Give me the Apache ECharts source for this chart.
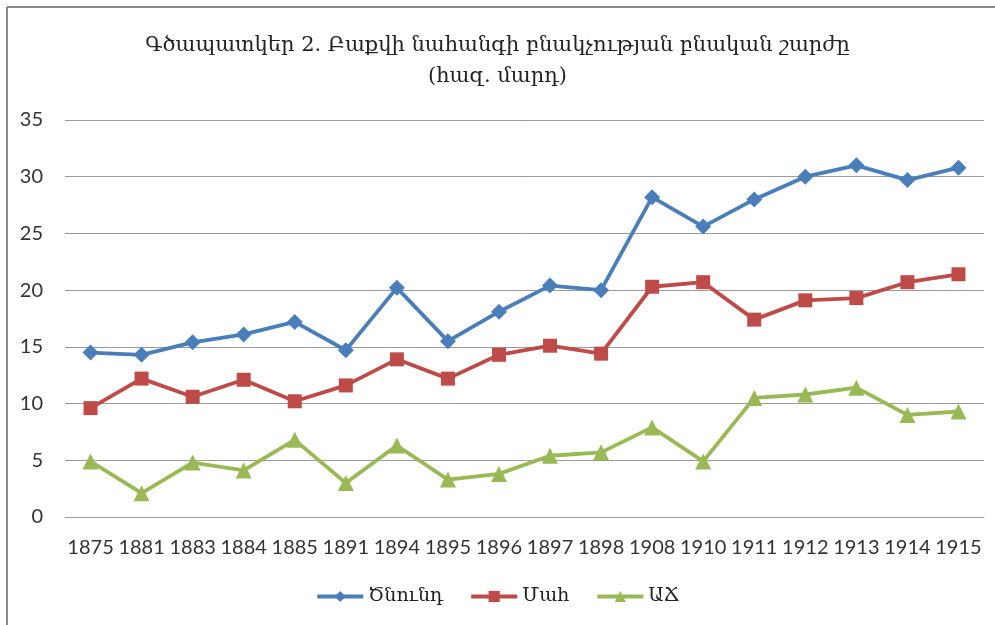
<!DOCTYPE html>
<html><head><meta charset="utf-8">
<script src="https://cdn.jsdelivr.net/npm/echarts@6/dist/echarts.min.js"></script>
<style>html,body{margin:0;padding:0;background:#fff}#c{width:995px;height:625px}</style>
</head><body><div id="c"></div>
<script>
const years = ['1875','1881','1883','1884','1885','1891','1894','1895','1896','1897','1898','1908','1910','1911','1912','1913','1914','1915'];
const births = [14.5,14.3,15.4,16.1,17.2,14.7,20.2,15.5,18.1,20.4,20.0,28.2,25.6,28.0,30.0,31.0,29.7,30.8];
const deaths = [9.6,12.2,10.6,12.1,10.2,11.6,13.9,12.2,14.3,15.1,14.4,20.3,20.7,17.4,19.1,19.3,20.7,21.4];
const growth = [4.9,2.1,4.8,4.1,6.8,3.0,6.3,3.3,3.8,5.4,5.7,7.9,4.9,10.5,10.8,11.4,9.0,9.3];
const seriesNames = ['Ծնունդ','Մահ','ԱՃ'];
const titleText = 'Գծապատկեր 2. Բաքվի նահանգի բնակչության բնական շարժը\n(հազ. մարդ)';

const chart = echarts.init(document.getElementById('c'), null, {renderer:'canvas'});
const serif = 'DejaVu Serif';
const sans = 'Lato';
function mk(name, data, color, symbol, size){
  return {name, type:'line', data, symbol, symbolSize:size, showSymbol:true,
    lineStyle:{color, width:3.8}, itemStyle:{color}, emphasis:{disabled:true}, z:3};
}
chart.setOption({
  animation:false,
  backgroundColor:'#fff',
  title:{text:titleText, left:'center', top:25,
    textStyle:{fontFamily:serif, fontSize:21, fontWeight:'normal', color:'#222', lineHeight:31}},
  legend:{bottom:14, left:'center', itemWidth:46, itemHeight:14, itemGap:26,
    lineStyle:{width:4},
    textStyle:{fontFamily:serif, fontSize:19, color:'#222'},
    data:seriesNames},
  grid:{left:65, right:11, top:120, bottom:108, containLabel:false},
  xAxis:{type:'category', data:years, boundaryGap:true,
    axisLine:{lineStyle:{color:'#999', width:1}}, axisTick:{show:false},
    axisLabel:{fontFamily:sans, fontSize:20, color:'#333', margin:21, interval:0}},
  yAxis:{type:'value', min:0, max:35, interval:5,
    axisLine:{show:false}, axisTick:{show:false},
    splitLine:{lineStyle:{color:'#9a9a9a', width:1}},
    axisLabel:{fontFamily:sans, fontSize:20, color:'#333', margin:22}},
  graphic:[
    {type:'line', shape:{x1:7,y1:7,x2:995,y2:7}, style:{stroke:'#888', lineWidth:2}},
    {type:'line', shape:{x1:7,y1:7,x2:7,y2:625}, style:{stroke:'#888', lineWidth:2}}
  ],
  series:[
    mk(seriesNames[0], births, '#4A7EBB', 'diamond', 16),
    mk(seriesNames[1], deaths, '#BE4B48', 'rect', 14),
    mk(seriesNames[2], growth, '#98B954', 'triangle', 16)
  ]
});
</script></body></html>
